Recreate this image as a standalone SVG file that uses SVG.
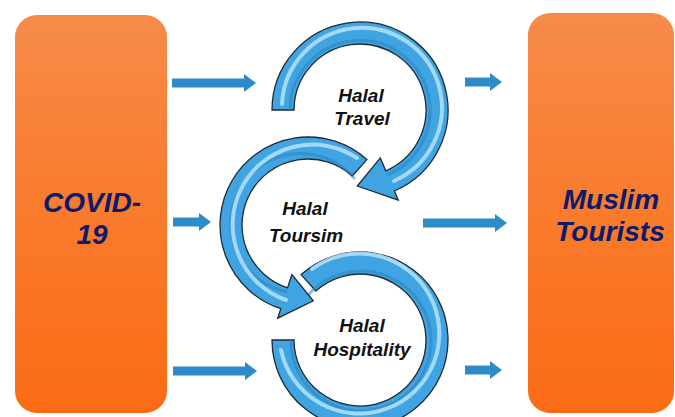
<svg xmlns="http://www.w3.org/2000/svg" width="675" height="417" viewBox="0 0 675 417">
<defs>
<linearGradient id="og" x1="0" y1="0" x2="0" y2="1">
<stop offset="0" stop-color="#F68B4A"/>
<stop offset="0.5" stop-color="#F97B2C"/>
<stop offset="1" stop-color="#FB6B14"/>
</linearGradient>
<marker id="ah" markerUnits="userSpaceOnUse" markerWidth="12" markerHeight="18" refX="0" refY="9" orient="auto">
<path d="M0,0 L12,9 L0,18 Z" fill="#2E8BC9"/>
</marker>
<style>
.box{fill:url(#og);}
.big{font-family:"Liberation Sans",Arial,sans-serif;font-weight:bold;font-style:italic;font-size:28px;fill:#0E1A6B;text-anchor:middle;}
.lbl{font-family:"Liberation Sans",Arial,sans-serif;font-weight:bold;font-style:italic;font-size:19px;fill:#111;text-anchor:middle;}
.ring{fill:#3FA4E1;stroke:#1E2A36;stroke-width:1.3;stroke-linejoin:miter;}
.hi{fill:none;stroke:#B5E3F9;stroke-width:4;stroke-linecap:round;opacity:0.85;}
.lo{fill:none;stroke:#2A80BE;stroke-width:3;opacity:0.5;}
.conn{stroke:#2E8BC9;stroke-width:9;fill:none;marker-end:url(#ah);}
</style>
</defs>
<rect width="675" height="417" fill="#ffffff"/>

<g id="covid">
<rect class="box" x="15" y="15" width="152" height="398" rx="22"/>
<text class="big" x="92" y="212">COVID-</text>
<text class="big" x="92" y="244">19</text>
</g>

<g id="muslim-tourists">
<rect class="box" x="528" y="13" width="146" height="400" rx="22"/>
<text class="big" x="611" y="209">Muslim</text>
<text class="big" x="610" y="241">Tourists</text>
</g>

<g id="halal-hospitality">
<path class="ring" d="M301.1,274.6 A88,88 0 1 1 272,340 L294,340 A66,66 0 1 0 315.8,291.0 Z"/>
<path class="lo" d="M306.5,297 A70,70 0 1 1 291,340"/>
<path class="hi" d="M312,269 A80,80 0 1 1 281,350"/>
<text class="lbl" x="362" y="332">Halal</text>
<text class="lbl" x="362" y="356">Hospitality</text>
</g>

<g id="halal-tourism">
<path class="ring" d="M366.9,159.6 A88,88 0 1 0 280.8,308.7 L277.7,318.2 L313.3,300.8 L291.9,274.5 L287.6,287.8 A66,66 0 1 1 352.2,176.0 Z"/>
<path class="lo" d="M355,179 A70,70 0 1 0 287,292"/>
<path class="hi" d="M357,158 A80,80 0 1 0 286,300"/>
<text class="lbl" x="305" y="215">Halal</text>
<text class="lbl" x="306" y="242">Toursim</text>
</g>

<g id="halal-travel">
<path class="ring" d="M272,110 A88,88 0 1 1 394.4,191.0 L398.3,200.2 L357.3,186.0 L380.3,157.9 L385.8,170.8 A66,66 0 1 0 294,110 Z"/>
<path class="lo" d="M290,110 A70,70 0 1 1 387,175"/>
<path class="hi" d="M282,104 A80,80 0 1 1 394,181"/>
<text class="lbl" x="361" y="102">Halal</text>
<text class="lbl" x="362" y="125">Travel</text>
</g>

<g id="connectors">
<line class="conn" x1="172" y1="83" x2="244" y2="83"/>
<line class="conn" x1="173" y1="222" x2="199" y2="222"/>
<line class="conn" x1="173" y1="371" x2="245" y2="371"/>
<line class="conn" x1="465" y1="82" x2="490" y2="82"/>
<line class="conn" x1="423" y1="223" x2="495" y2="223"/>
<line class="conn" x1="465" y1="370" x2="490" y2="370"/>
</g>
</svg>
